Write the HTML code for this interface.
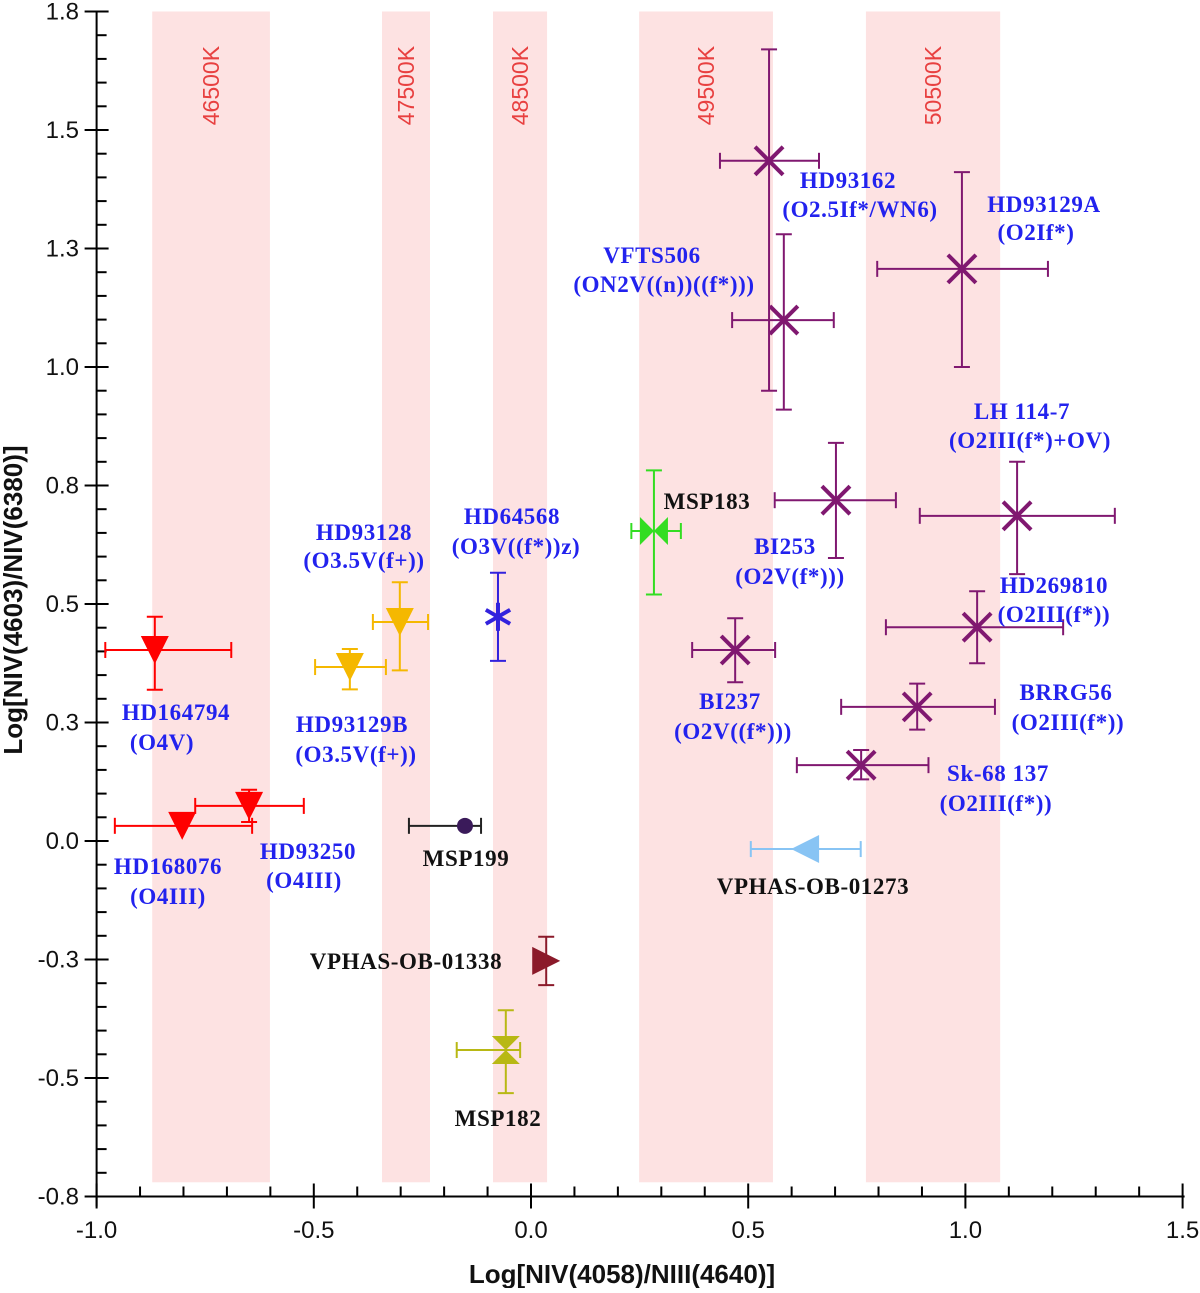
<!DOCTYPE html>
<html><head><meta charset="utf-8"><style>
body{margin:0;background:#fff}
svg text{font-family:"Liberation Sans",sans-serif}
.lab{font-family:"Liberation Serif",serif;font-weight:bold;font-size:23px;letter-spacing:0.6px;fill:#2222ee;text-anchor:middle}
.labk{font-family:"Liberation Serif",serif;font-weight:bold;font-size:23px;letter-spacing:0.6px;fill:#111;text-anchor:middle}
</style></head><body>
<svg id="chart" width="1200" height="1288" xmlns="http://www.w3.org/2000/svg">
<g id="bands"></g>
<g id="axes"></g>
<g id="marks"></g>
<g id="labels">
<text class="lab" x="176" y="720">HD164794</text><text class="lab" x="162" y="750">(O4V)</text>
<text class="lab" x="168" y="874">HD168076</text><text class="lab" x="168" y="904">(O4III)</text>
<text class="lab" x="308" y="859">HD93250</text><text class="lab" x="304" y="888">(O4III)</text>
<text class="lab" x="352" y="732">HD93129B</text><text class="lab" x="356" y="762">(O3.5V(f+))</text>
<text class="lab" x="364" y="540">HD93128</text><text class="lab" x="364" y="568">(O3.5V(f+))</text>
<text class="lab" x="512" y="524">HD64568</text><text class="lab" x="516" y="554">(O3V((f*))z)</text>
<text class="labk" x="466" y="866">MSP199</text>
<text class="labk" x="707" y="509">MSP183</text>
<text class="labk" x="406" y="969">VPHAS-OB-01338</text>
<text class="labk" x="498" y="1126">MSP182</text>
<text class="labk" x="813" y="894">VPHAS-OB-01273</text>
<text class="lab" x="848" y="188">HD93162</text><text class="lab" x="860" y="217">(O2.5If*/WN6)</text>
<text class="lab" x="1044" y="212">HD93129A</text><text class="lab" x="1036" y="240">(O2If*)</text>
<text class="lab" x="652" y="263">VFTS506</text><text class="lab" x="664" y="292">(ON2V((n))((f*)))</text>
<text class="lab" x="1022" y="419">LH 114-7</text><text class="lab" x="1030" y="448">(O2III(f*)+OV)</text>
<text class="lab" x="785" y="554">BI253</text><text class="lab" x="790" y="584">(O2V(f*)))</text>
<text class="lab" x="1054" y="593">HD269810</text><text class="lab" x="1054" y="622">(O2III(f*))</text>
<text class="lab" x="730" y="709">BI237</text><text class="lab" x="733" y="739">(O2V((f*)))</text>
<text class="lab" x="1066" y="700">BRRG56</text><text class="lab" x="1068" y="730">(O2III(f*))</text>
<text class="lab" x="998" y="781">Sk-68 137</text><text class="lab" x="996" y="811">(O2III(f*))</text>
</g>
</svg>
<script>
const bandLo=[-0.872,-0.343,-0.0875,0.249,0.771];
const bandHi=[-0.601,-0.2325,0.037,0.557,1.080];
const bandLabels=['46500K','47500K','48500K','49500K','50500K'];
const names=['HD164794','HD168076','HD93250','HD93129B','HD93128','HD64568','MSP199','MSP183','VPHAS-OB-01338','MSP182','VPHAS-OB-01273','HD93162','VFTS506','HD93129A','BI253','LH114-7','HD269810','BI237','BRRG56','Sk-68-137'];
const xs=[-0.866,-0.803,-0.649,-0.417,-0.302,-0.076,-0.152,0.283,0.035,-0.058,0.631,0.548,0.582,0.992,0.702,1.119,1.027,0.470,0.889,0.760];
const ys=[0.403,0.032,0.074,0.367,0.462,0.473,0.032,0.654,-0.253,-0.441,-0.017,1.435,1.099,1.207,0.719,0.686,0.451,0.403,0.283,0.160];
const xLo=[-0.98,-0.958,-0.773,-0.497,-0.364,-0.076,-0.281,0.231,0.035,-0.171,0.506,0.435,0.463,0.797,0.561,0.895,0.817,0.371,0.714,0.612];
const xHi=[-0.69,-0.642,-0.523,-0.334,-0.237,-0.076,-0.115,0.345,0.035,-0.025,0.759,0.663,0.697,1.19,0.84,1.344,1.225,0.562,1.068,0.915];
const yLo=[0.319,0.032,0.04,0.32,0.36,0.38,0.032,0.52,-0.304,-0.532,-0.017,0.95,0.91,1.0,0.597,0.563,0.375,0.335,0.235,0.13];
const yHi=[0.473,0.032,0.108,0.405,0.546,0.566,0.032,0.782,-0.202,-0.357,-0.017,1.67,1.28,1.411,0.84,0.8,0.527,0.47,0.332,0.192];
const colors=['#f00','#f00','#f00','#f5b800','#f5b800','#3322dd','#222','#33dd22','#8b1a2a','#b8b814','#88c4f4','#801870','#801870','#801870','#801870','#801870','#801870','#801870','#801870','#801870'];
const shapes=['tri-down','tri-down','tri-down','tri-down','tri-down','asterisk','circle','bowtie','tri-right','hourglass','tri-left','x','x','x','x','x','x','x','x','x'];
const xTicks=[-1.0,-0.5,0.0,0.5,1.0,1.5];
const xTickLabels=['-1.0','-0.5','0.0','0.5','1.0','1.5'];
const yTicks=[1.75,1.5,1.25,1.0,0.75,0.5,0.25,0.0,-0.25,-0.5,-0.75];
const yTickLabels=['1.8','1.5','1.3','1.0','0.8','0.5','0.3','0.0','-0.3','-0.5','-0.8'];
const NS='http://www.w3.org/2000/svg';
const X=v=>531+v*434.4, Y=v=>841-v*474;
function mk(p,t,a){const e=document.createElementNS(NS,t);for(const k in a)e.setAttribute(k,a[k]);p.appendChild(e);return e;}
const gB=document.getElementById('bands'),gA=document.getElementById('axes'),gM=document.getElementById('marks');
bandLo.forEach((lo,i)=>{
 const r=mk(gB,'rect',{x:X(lo),y:Y(1.75),width:X(bandHi[i])-X(lo),height:Y(-0.72)-Y(1.75),fill:'#fde2e2'});
 
 
 const cx=(X(lo)+X(bandHi[i]))/2+8;
 const t=mk(gB,'text',{x:0,y:0,transform:`translate(${cx},${Y(1.51)}) rotate(-90)`,fill:'#e84040','font-size':23});
 t.textContent=bandLabels[i];
 
 
});
mk(gA,'line',{x1:X(-1),y1:Y(1.75)-1,x2:X(-1),y2:Y(-0.75)+10,stroke:'#000','stroke-width':2});
mk(gA,'line',{x1:X(-1)-10,y1:Y(-0.75),x2:X(1.5)+2,y2:Y(-0.75),stroke:'#000','stroke-width':2});
for(let i=0;i<=25;i++){const v=-1+i*0.1;const maj=i%5==0;mk(gA,'line',{x1:X(v),y1:Y(-0.75)-(maj?13:10),x2:X(v),y2:Y(-0.75)+(maj?12:0),stroke:'#000','stroke-width':2});}
for(let i=0;i<=50;i++){const v=-0.75+i*0.05;const maj=i%5==0;mk(gA,'line',{x1:X(-1)-(maj?12:0),y1:Y(v),x2:X(-1)+(maj?12:10),y2:Y(v),stroke:'#000','stroke-width':2});}
xTicks.forEach((v,i)=>{const t=mk(gA,'text',{x:X(v),y:1238,'text-anchor':'middle','font-size':24,fill:'#111'});t.textContent=xTickLabels[i];
 });
yTicks.forEach((v,i)=>{const t=mk(gA,'text',{x:79,y:Y(v)+8,'text-anchor':'end','font-size':24,fill:'#111'});t.textContent=yTickLabels[i];
 });
const xt=mk(gA,'text',{x:622,y:1283,'text-anchor':'middle','font-size':26,'font-weight':'bold',fill:'#111'});xt.textContent='Log[NIV(4058)/NIII(4640)]';

const yt=mk(gA,'text',{x:0,y:0,transform:'translate(22,600) rotate(-90)','text-anchor':'middle','font-size':26,'font-weight':'bold',fill:'#111'});yt.textContent='Log[NIV(4603)/NIV(6380)]';

names.forEach((n,i)=>{
 const g=mk(gM,'g',{});
 
 
 const c=colors[i],cx=X(xs[i]),cy=Y(ys[i]),s={stroke:c,'stroke-width':2};
 if(xHi[i]>xLo[i]){mk(g,'line',{x1:X(xLo[i]),y1:cy,x2:X(xHi[i]),y2:cy,...s});
  mk(g,'line',{x1:X(xLo[i]),y1:cy-8,x2:X(xLo[i]),y2:cy+8,...s});mk(g,'line',{x1:X(xHi[i]),y1:cy-8,x2:X(xHi[i]),y2:cy+8,...s});}
 if(yHi[i]>yLo[i]){mk(g,'line',{x1:cx,y1:Y(yLo[i]),x2:cx,y2:Y(yHi[i]),...s});
  mk(g,'line',{x1:cx-8,y1:Y(yLo[i]),x2:cx+8,y2:Y(yLo[i]),...s});mk(g,'line',{x1:cx-8,y1:Y(yHi[i]),x2:cx+8,y2:Y(yHi[i]),...s});}
 const r=14,sh=shapes[i];
 if(sh=='tri-down')mk(g,'polygon',{points:`${cx-r},${cy-r} ${cx+r},${cy-r} ${cx},${cy+r}`,fill:c});
 else if(sh=='tri-right')mk(g,'polygon',{points:`${cx-r},${cy-r} ${cx+r},${cy} ${cx-r},${cy+r}`,fill:c});
 else if(sh=='tri-left')mk(g,'polygon',{points:`${cx+r},${cy-r} ${cx-r},${cy} ${cx+r},${cy+r}`,fill:c});
 else if(sh=='bowtie'){mk(g,'polygon',{points:`${cx-r},${cy-r} ${cx},${cy} ${cx-r},${cy+r}`,fill:c});mk(g,'polygon',{points:`${cx+r},${cy-r} ${cx},${cy} ${cx+r},${cy+r}`,fill:c});}
 else if(sh=='hourglass'){mk(g,'polygon',{points:`${cx-r},${cy-r} ${cx+r},${cy-r} ${cx},${cy}`,fill:c});mk(g,'polygon',{points:`${cx-r},${cy+r} ${cx+r},${cy+r} ${cx},${cy}`,fill:c});}
 else if(sh=='circle')mk(g,'circle',{cx:cx,cy:cy,r:8,fill:'#3a1a5a'});
 else if(sh=='asterisk'){for(const a of [0,60,120]){const d=a*Math.PI/180;mk(g,'line',{x1:cx-r*Math.sin(d),y1:cy-r*Math.cos(d),x2:cx+r*Math.sin(d),y2:cy+r*Math.cos(d),stroke:c,'stroke-width':4});}}
 else if(sh=='x'){mk(g,'line',{x1:cx-r,y1:cy-r,x2:cx+r,y2:cy+r,stroke:c,'stroke-width':4});mk(g,'line',{x1:cx-r,y1:cy+r,x2:cx+r,y2:cy-r,stroke:c,'stroke-width':4});}
});
</script>
</body></html>
